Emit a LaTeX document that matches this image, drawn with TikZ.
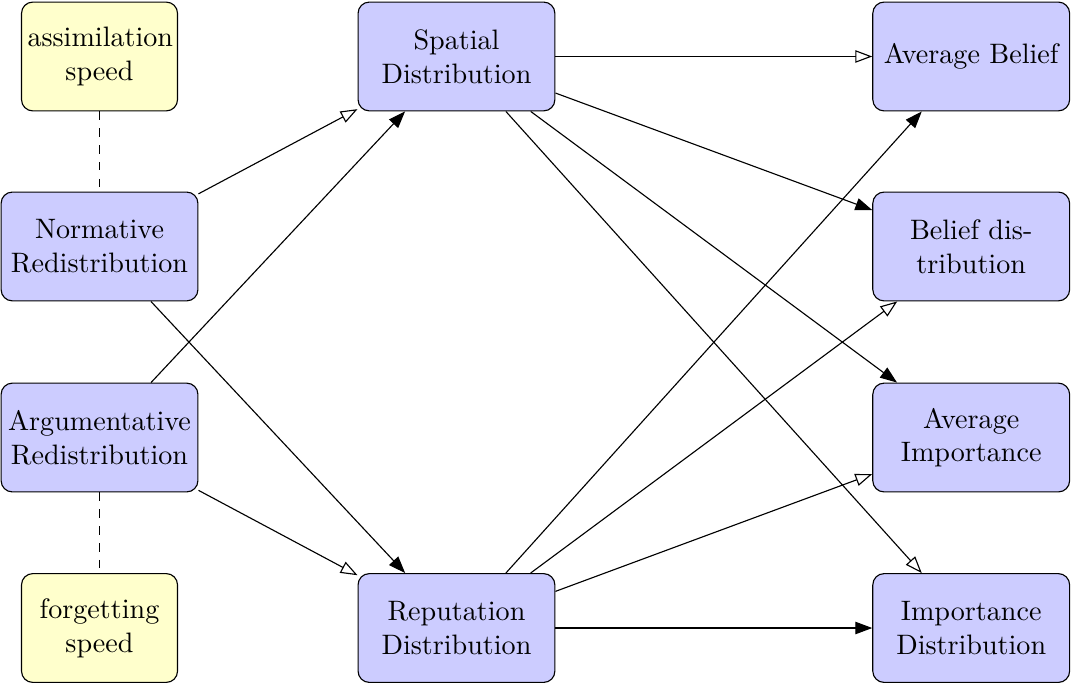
\documentclass[tikz,border=0pt]{standalone}
\usepackage{tikz}
\usetikzlibrary{arrows.meta}
\definecolor{quantfill}{HTML}{CCCCFF}
\definecolor{paramfill}{HTML}{FFFFCC}

\begin{document}
\begin{tikzpicture}[
  quant/.style={draw, rounded corners, fill=quantfill, align=center,
    text width=2.3cm, inner xsep=0.08cm, minimum width=2.46cm, minimum height=1.36cm},
  param/.style={draw, rounded corners, fill=paramfill, align=center,
    text width=1.8cm, inner xsep=0.07cm, minimum width=1.95cm, minimum height=1.36cm},
  solidtip/.style={-{Triangle[length=6pt, width=4.4pt]}},
  opentip/.style={-{Triangle[open, length=6pt, width=4.4pt]}}
]
\useasboundingbox (0,0) rectangle (13.3875,-8.5625);
% parameters and redistribution mechanisms
\node[param] (assim) at (1.244,-0.706) {assimilation speed};
\node[quant] (norm) at (1.244,-3.081) {Normative Redistribution};
\node[quant] (argu) at (1.244,-5.469) {Argumentative Redistribution};
\node[param] (forget) at (1.244,-7.85) {forgetting speed};
% distributions
\node[quant] (spatial) at (5.706,-0.706) {Spatial Distribution};
\node[quant] (reput) at (5.706,-7.85) {Reputation Distribution};
% measures
\node[quant] (avgbel) at (12.14,-0.706) {Average Belief};
\node[quant] (beldist) at (12.14,-3.081) {Belief distribution};
\node[quant] (avgimp) at (12.14,-5.469) {Average Importance};
\node[quant] (impdist) at (12.14,-7.85) {Importance Distribution};

\draw[dashed] (assim) -- (norm);
\draw[dashed] (argu) -- (forget);

\draw[opentip] (norm) -- (spatial);
\draw[solidtip] (norm) -- (reput);
\draw[solidtip] (argu) -- (spatial);
\draw[opentip] (argu) -- (reput);

\draw[opentip] (spatial) -- (avgbel);
\draw[solidtip] (spatial) -- (beldist);
\draw[solidtip] (spatial) -- (avgimp);
\draw[opentip] (spatial) -- (impdist);

\draw[solidtip] (reput) -- (avgbel);
\draw[opentip] (reput) -- (beldist);
\draw[opentip] (reput) -- (avgimp);
\draw[solidtip] (reput) -- (impdist);
\end{tikzpicture}
\end{document}
